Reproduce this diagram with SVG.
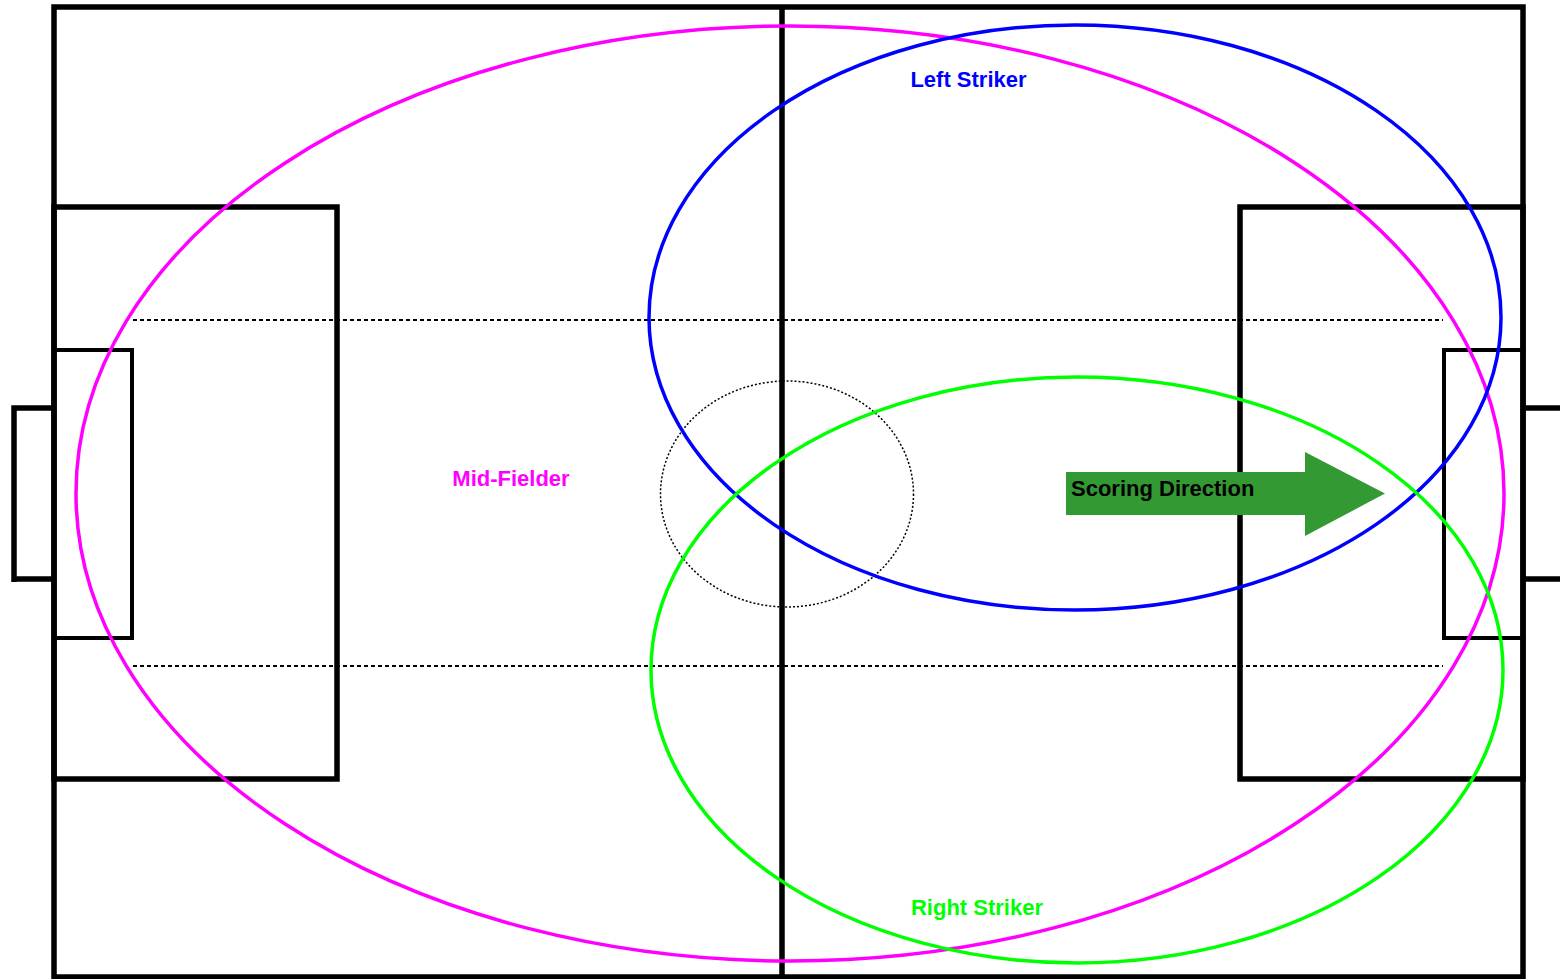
<svg xmlns="http://www.w3.org/2000/svg" width="1560" height="979" viewBox="0 0 1560 979">
<style>
.line{fill:none;stroke:#000;stroke-width:5.5}
.thin{fill:none;stroke:#000;stroke-width:4}
.dash{fill:none;stroke:#000;stroke-width:2;stroke-dasharray:4 3}
.circ{fill:none;stroke:#000;stroke-width:1.5;stroke-dasharray:2 2}
.zone{fill:none;stroke-width:3.5}
.lbl{font-family:"Liberation Sans",Arial,sans-serif;font-weight:bold;font-size:22px}
</style>
<rect width="1560" height="979" fill="#fff"/>
<g id="field">
<rect class="line" x="54" y="7" width="1469" height="970"/>
<line class="line" x1="782" y1="7" x2="782" y2="977"/>
<rect class="line" x="54" y="207" width="283" height="572"/>
<rect class="line" x="1240" y="207" width="283" height="572"/>
<rect class="thin" x="54" y="350" width="78" height="288"/>
<rect class="thin" x="1444" y="350" width="79" height="288"/>
<polyline class="line" points="54,408 14,408 14,582"/>
<line class="line" x1="14" y1="579" x2="54" y2="579"/>
<line class="line" x1="1523" y1="408" x2="1560" y2="408"/>
<line class="line" x1="1523" y1="579" x2="1560" y2="579"/>
<line class="dash" x1="133" y1="320" x2="1443" y2="320"/>
<line class="dash" x1="133" y1="666" x2="1443" y2="666"/>
<ellipse class="circ" cx="787" cy="494" rx="126.5" ry="113"/>
</g>
<g id="scoring-direction">
<polygon points="1066,472 1305,472 1305,452 1385,493.5 1305,536 1305,515 1066,515" fill="#339933"/>
<text class="lbl" x="1071" y="495.5" fill="#000">Scoring Direction</text>
</g>
<g id="mid-fielder">
<ellipse class="zone" cx="790" cy="493.5" rx="714" ry="467.5" stroke="#ff00ff"/>
<text class="lbl" x="511" y="486" fill="#ff00ff" text-anchor="middle">Mid-Fielder</text>
</g>
<g id="left-striker">
<ellipse class="zone" cx="1075" cy="317.5" rx="426" ry="292.5" stroke="#0000ff"/>
<text class="lbl" x="968.5" y="87" fill="#0000ff" text-anchor="middle">Left Striker</text>
</g>
<g id="right-striker">
<ellipse class="zone" cx="1077" cy="670" rx="426" ry="293" stroke="#00ff00"/>
<text class="lbl" x="977" y="915" fill="#00ff00" text-anchor="middle">Right Striker</text>
</g>
<g id="connectors"/>
</svg>
